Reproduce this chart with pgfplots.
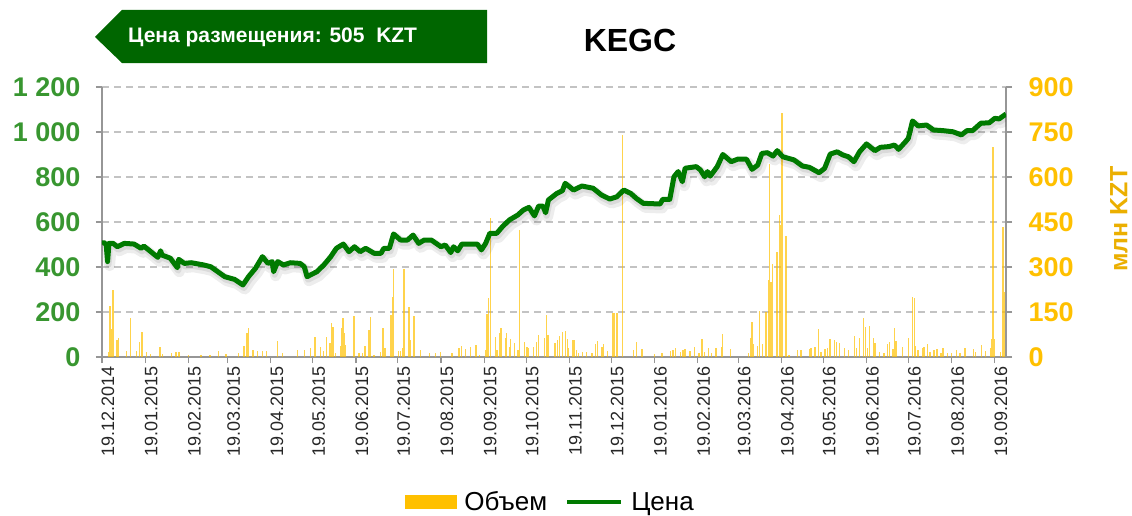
\documentclass[border=0pt]{standalone}
\usepackage{pgfplots}
\usepackage{pgfplotstable}
\pgfplotsset{compat=1.18}
\usepackage{fontspec}
\setmainfont{Liberation Sans}
\definecolor{volc}{RGB}{255,192,0}
\definecolor{volt}{RGB}{235,175,0}
\definecolor{pricec}{RGB}{0,122,0}
\definecolor{tickg}{RGB}{56,150,48}
\definecolor{banner}{RGB}{0,102,0}
\definecolor{axg}{RGB}{150,150,150}
\definecolor{gridg}{RGB}{195,195,195}

\pgfplotstableread{
day vol
4.5 18
5.7 170
6.7 92
7.9 223
10.7 57
11.7 62
17.7 20
20.5 129
24.8 20
27 51
28.6 84
32 18
34.6 9
41.5 34
43.4 10
49.9 12
53 18
55.3 16
61.8 8
70.9 8
77.3 8
83.5 20
88.8 9
97.9 14
101.9 37
103.8 79
105 98
108.1 23
111.5 20
115 20
117.9 20
125.8 54
129.3 14
140.1 23
145.3 23
149.6 29
152.7 68
156.8 32
158.7 20
161.1 68
163.4 46
164.6 114
165.6 101
167.5 12
171.1 37
171.6 96
172.7 129
173.4 79
174.7 40
180.6 137
184.2 12
186.6 14
188.5 37
191.3 90
192.5 132
194.9 7
199.7 18
201.4 96
202.8 29
207.1 140
208.1 201
209 292
212.4 20
214 20
215.7 29
216.4 292
220 168
221.2 57
223.5 137
228.3 23
234.8 14
239.1 12
242.7 18
251 12
255.8 29
257.5 37
260.6 26
264.1 34
268.2 40
270.6 7
274.9 23
276.1 143
277 198
278.5 462
282 68
283.2 23
284.9 81
286.1 96
289.2 62
289.9 79
292.1 32
293 60
295.8 48
298.3 23
299.4 423
302.8 51
304.7 34
305.9 31
309.4 34
311.4 51
313 73
317.1 62
318.5 140
319.7 73
324.5 48
325 48
326.6 57
327.8 70
330.2 84
332.3 87
333.8 60
334.5 29
337.6 57
338.8 57
340 23
341.7 14
344.5 18
347.2 18
351.2 14
353.6 43
355.3 53
358.4 34
359.6 43
362.4 20
366.3 148
367.4 148
369.1 148
373.2 740
381 23
383 51
387 26
396 10
401.3 12
407.3 20
409.2 23
410.9 31
414.5 18
416.4 23
418 27
421.6 20
424.7 34
428 14
430 59
431.9 18
434.7 31
436.7 14
440 31
444.3 32
444.7 77
450.3 26
463.4 12
465.3 62
465.8 118
466.9 43
469.8 37
471.2 154
473.4 43
476 151
477.7 257
478.4 643
479.4 251
480.8 310
483.7 351
484.1 218
485.5 473
486.5 440
487.5 814
490.3 403
492.5 7
498.7 23
501.1 23
507 27
508.2 31
511.1 32
513.4 93
515.4 18
518.2 26
520.2 31
521.8 59
524.9 57
526.6 51
528.5 48
532.1 29
534.9 23
539.2 70
541 31
542.8 62
546 131
547.4 99
548.8 31
550 104
552.8 62
554 48
557.1 18
560.5 12
563.1 42
564.3 49
567.1 26
567.9 98
569.1 53
573.9 32
577.9 62
581 199
582.2 196
583.2 37
585 23
588.2 31
589.3 32
591.8 43
593.4 18
596.5 23
598.6 26
601.3 14
602.9 31
606.1 12
608.9 12
612.5 23
614.9 12
618.5 31
624.9 26
626.3 18
630.4 40
633.3 20
637.1 29
638 59
638.7 701
639.9 59
644.2 18
645.9 434
647.1 218
}\voltable

\pgfplotstableread{
day price
0 505
1 510
3 500
4 424
5 505
8 505
11 490
16 505
23 502
28 483
30 493
35 468
40 443
42 472
43 453
49 439
54 397
55 434
59 416
64 419
73 409
78 401
83 379
88 357
95 345
101 320
105 357
110 394
115 446
119 416
122 424
123 379
126 424
130 409
135 419
142 416
145 401
147 357
154 379
159 409
164 446
168 483
173 502
177 468
181 490
185 468
189 483
195 461
200 461
202 483
206 483
209 547
214 520
219 520
223 542
227 505
231 520
236 520
243 490
246 498
250 464
252 490
255 472
258 502
264 502
269 502
272 476
275 505
278 550
283 550
287 579
292 609
298 631
302 653
306 665
310 627
313 671
316 671
318 641
320 698
326 727
330 739
332 772
338 742
344 760
352 750
358 720
364 702
369 712
374 742
379 727
383 705
388 683
400 680
402 701
407 701
410 801
413 824
416 779
418 839
426 846
429 831
432 801
434 824
436 804
441 846
445 900
451 868
456 880
462 879
466 834
470 853
473 905
477 908
481 893
484 917
488 890
496 876
502 849
507 843
514 819
518 839
522 902
527 912
531 898
535 890
539 868
543 912
548 947
554 917
558 932
564 935
568 942
571 923
576 957
578 972
581 1049
585 1027
591 1031
596 1009
603 1006
610 1001
616 987
620 1006
624 1006
630 1039
636 1041
640 1061
643 1058
648 1080
}\pricetable

\begin{document}
\begin{tikzpicture}
\useasboundingbox (-102pt,-158pt) rectangle (1030pt,357pt);
% banner
\fill[banner] (-7pt,320pt) -- (20pt,347pt) -- (385pt,347pt) -- (385pt,294pt) -- (20pt,294pt) -- cycle;
\node[anchor=west, text=white, font=\bfseries\fontsize{21}{22}\selectfont, inner sep=0pt] at (26pt,320pt) {Цена размещения: 505\ \ KZT};
\node[font=\bfseries\fontsize{32}{34}\selectfont, inner sep=0pt] at (528pt,317pt) {KEGC};
\node[rotate=90, text=volt, font=\bfseries\fontsize{25}{27}\selectfont, inner sep=0pt] at (1017pt,138pt) {млн KZT};

% volume axis (right)
\begin{axis}[
  at={(0,0)}, anchor=origin,
  scale only axis, width=904pt, height=270pt,
  xmin=0, xmax=648, ymin=0, ymax=900,
  axis y line*=right, axis x line*=bottom,
  axis line style={draw=axg, line width=1.5pt},
  ytick={0,150,...,900},
  yticklabels={0,150,300,450,600,750,900},
  yticklabel style={text=volc, font=\bfseries\fontsize{27}{27}\selectfont, xshift=13pt},
  xtick={0,31,62,90,121,151,182,212,243,274,304,335,365,396,427,456,487,517,548,578,609,640},
  xticklabels={19.12.2014,19.01.2015,19.02.2015,19.03.2015,19.04.2015,19.05.2015,19.06.2015,19.07.2015,19.08.2015,19.09.2015,19.10.2015,19.11.2015,19.12.2015,19.01.2016,19.02.2016,19.03.2016,19.04.2016,19.05.2016,19.06.2016,19.07.2016,19.08.2016,19.09.2016},
  xticklabel style={rotate=90, anchor=east, font=\fontsize{18}{18}\selectfont, text=black!85, yshift=-6pt},
  tick align=outside, major tick length=6pt,
  tick style={draw=axg, line width=1.2pt},
  ymajorgrids, grid style={draw=gridg, line width=1.3pt, dash pattern=on 7pt off 5pt},
  /pgf/number format/assume math mode=true,
  clip=false,
]
\addplot[ycomb, no marks, draw=volc, draw opacity=0.7, line width=1.4pt] table[x=day,y=vol] {\voltable};
\end{axis}

% price axis (left)
\begin{axis}[
  at={(0,0)}, anchor=origin,
  scale only axis, width=904pt, height=270pt,
  xmin=0, xmax=648, ymin=0, ymax=1200,
  axis y line*=left, axis x line=none,
  axis line style={draw=axg, line width=1.5pt},
  ytick={0,200,...,1200},
  yticklabels={0,200,400,600,800,1 000,1 200},
  yticklabel style={text=tickg, font=\bfseries\fontsize{27}{27}\selectfont, xshift=-12pt},
  tick align=outside, major tick length=6pt,
  tick style={draw=axg, line width=1.2pt},
  /pgf/number format/assume math mode=true,
  legend style={at={(0.496,-0.537)}, anchor=center, draw=none, fill=none,
    font=\fontsize{26}{26}\selectfont, legend columns=2,
    /tikz/every odd column/.append style={column sep=6pt},
    /tikz/every even column/.append style={column sep=16pt}},
  legend cell align=left,
]
\addplot[draw=black, draw opacity=0.07, line width=11pt, line join=round, shift={(2pt,-4pt)}, forget plot] table[x=day,y=price] {\pricetable};
\addplot[draw=black, draw opacity=0.08, line width=6pt, line join=round, shift={(1pt,-3pt)}, forget plot] table[x=day,y=price] {\pricetable};
\addlegendimage{legend image code/.code={\fill[volc] (0pt,-6.5pt) rectangle (51pt,6.5pt);}}
\addlegendentry{Объем}
\addplot[draw=pricec, line width=5pt, line join=round, no marks,
  legend image code/.code={\draw[pricec, line width=4pt] (0pt,0pt) -- (54pt,0pt);}] table[x=day,y=price] {\pricetable};
\addlegendentry{Цена}
\end{axis}
\end{tikzpicture}
\end{document}
